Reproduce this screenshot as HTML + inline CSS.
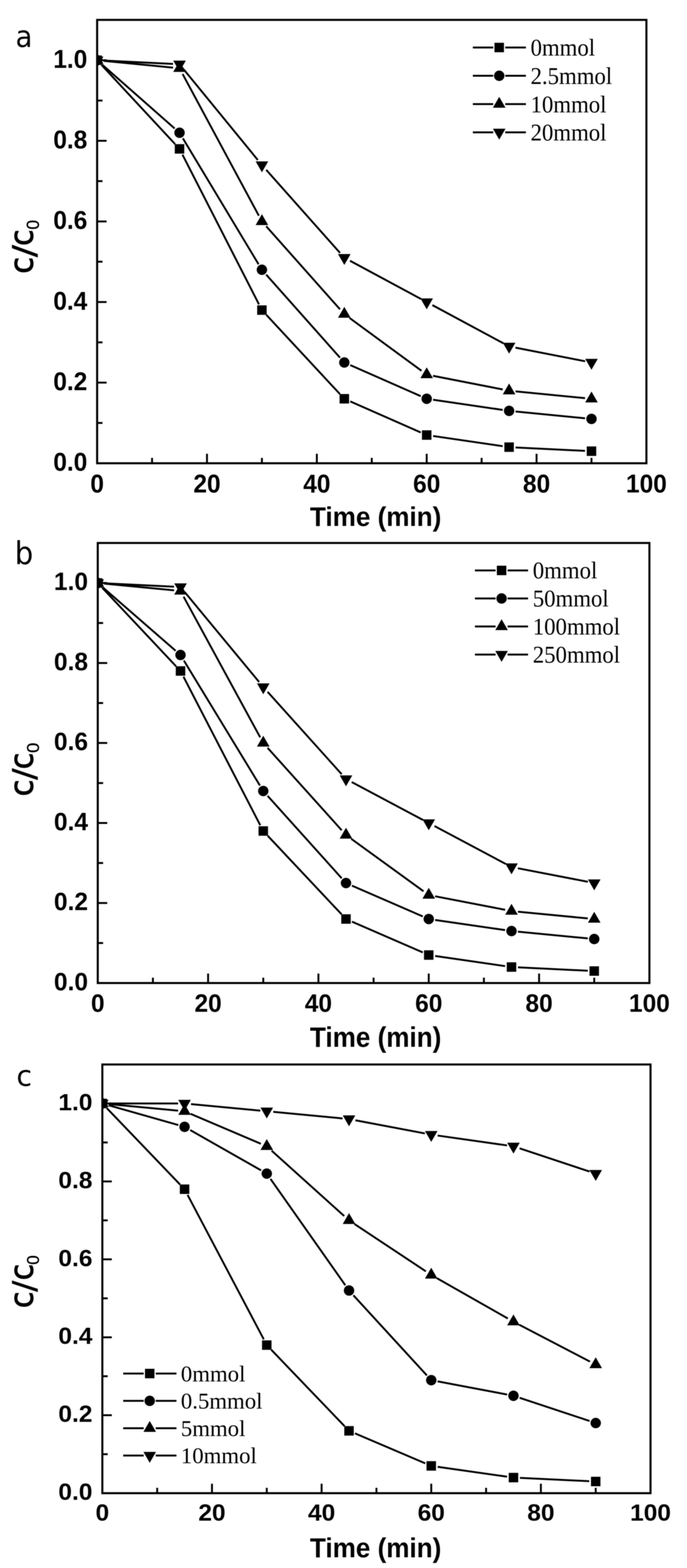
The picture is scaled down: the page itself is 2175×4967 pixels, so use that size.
<!DOCTYPE html>
<html><head><meta charset="utf-8"><title>C/C0 vs Time</title>
<style>html,body{margin:0;padding:0;background:#fff;}svg{display:block;}</style>
</head><body>
<svg width="2175" height="4967" viewBox="0 0 2175 4967">
<defs><filter id="soft0" filterUnits="userSpaceOnUse" x="0" y="0" width="2175" height="1700"><feGaussianBlur stdDeviation="1.0"/></filter><filter id="soft1" filterUnits="userSpaceOnUse" x="0" y="1690" width="2175" height="1670"><feGaussianBlur stdDeviation="1.0"/></filter><filter id="soft2" filterUnits="userSpaceOnUse" x="0" y="3350" width="2175" height="1617"><feGaussianBlur stdDeviation="1.0"/></filter></defs>
<rect width="2175" height="4967" fill="#fff"/>
<g>
<g filter="url(#soft0)">
<rect x="307.5" y="63" width="1739" height="1404.5" fill="none" stroke="#000" stroke-width="6.5"/>
<path d="M481.4 1467.5v-17M655.3 1467.5v-30M829.2 1467.5v-17M1003.1 1467.5v-30M1177 1467.5v-17M1350.9 1467.5v-30M1524.8 1467.5v-17M1698.7 1467.5v-30M1872.6 1467.5v-17M307.5 1339.8h17M307.5 1212.1h30M307.5 1084.5h17M307.5 956.8h30M307.5 829.1h17M307.5 701.4h30M307.5 573.7h17M307.5 446h30M307.5 318.4h17M307.5 190.7h30" stroke="#000" stroke-width="6" fill="none"/>
<g font-family="'Liberation Sans', Arial, sans-serif" font-weight="bold" font-size="80" fill="#000">
<text transform="translate(307.5,1559.9) scale(0.97,1.03)" text-anchor="middle">0</text>
<text transform="translate(655.3,1559.9) scale(0.97,1.03)" text-anchor="middle">20</text>
<text transform="translate(1003.1,1559.9) scale(0.97,1.03)" text-anchor="middle">40</text>
<text transform="translate(1350.9,1559.9) scale(0.97,1.03)" text-anchor="middle">60</text>
<text transform="translate(1698.7,1559.9) scale(0.97,1.03)" text-anchor="middle">80</text>
<text transform="translate(2046.5,1559.9) scale(0.97,1.03)" text-anchor="middle">100</text>
<text transform="translate(276.5,1491.4) scale(0.97,1.03)" text-anchor="end">0.0</text>
<text transform="translate(276.5,1236) scale(0.97,1.03)" text-anchor="end">0.2</text>
<text transform="translate(276.5,980.7) scale(0.97,1.03)" text-anchor="end">0.4</text>
<text transform="translate(276.5,725.3) scale(0.97,1.03)" text-anchor="end">0.6</text>
<text transform="translate(276.5,469.9) scale(0.97,1.03)" text-anchor="end">0.8</text>
<text transform="translate(276.5,214.6) scale(0.97,1.03)" text-anchor="end">1.0</text>
</g>
<text transform="translate(981.37,1665.91) scale(1.0319,1.0760)" font-family="'Liberation Sans', Arial, sans-serif" font-weight="bold" font-size="80">Time (min)</text>
<text transform="translate(103.99,866.99) rotate(-90) scale(0.9651,1.0140)" font-family="'DejaVu Sans', 'Liberation Sans', sans-serif" font-weight="normal" font-size="100" stroke="#000" stroke-width="2.43">c</text>
<text transform="translate(110.01,814.70) rotate(-90) scale(1.1471,0.9768)" font-family="'DejaVu Sans', 'Liberation Sans', sans-serif" font-weight="normal" font-size="100" stroke="#000" stroke-width="1.32">/</text>
<text transform="translate(103.99,778.67) rotate(-90) scale(0.9442,1.0140)" font-family="'DejaVu Sans', 'Liberation Sans', sans-serif" font-weight="normal" font-size="100" stroke="#000" stroke-width="2.45">c</text>
<text transform="translate(123.05,727.29) rotate(-90) scale(0.5479,0.5521)" font-family="'Liberation Sans', Arial, sans-serif" font-weight="normal" font-size="100" stroke="#000" stroke-width="1.45">0</text>
<text transform="translate(49.27,148.95) scale(0.8717,0.9456)" font-family="'DejaVu Sans', 'Liberation Sans', sans-serif" font-weight="normal" font-size="100">a</text>
<clipPath id="clipa"><rect x="307.5" y="63" width="1739" height="1404.5"/></clipPath>
<g clip-path="url(#clipa)">
<path d="M321.4 205.7L554.4 456.6M577.7 489.8L819.9 964.1M843.1 997.3L1076.1 1248.2M1108.8 1271.5L1332.1 1369.9M1371.2 1381.1L1591.5 1413.4M1632.2 1417.4L1852.1 1428.2" stroke="#000" stroke-width="6" fill="none"/>
<g fill="#000"><rect x="292.5" y="175.7" width="30" height="30"/><rect x="553.4" y="456.6" width="30" height="30"/><rect x="814.2" y="967.3" width="30" height="30"/><rect x="1075.1" y="1248.2" width="30" height="30"/><rect x="1335.9" y="1363.1" width="30" height="30"/><rect x="1596.8" y="1401.4" width="30" height="30"/><rect x="1857.6" y="1414.2" width="30" height="30"/></g>
<path d="M322.9 204.2L553 407M578.9 438.1L818.6 837.1M842.8 870L1076.4 1133M1108.8 1156.6L1332.1 1254.9M1371.2 1266.2L1591.5 1298.5M1632.2 1303.5L1852.2 1325.1" stroke="#000" stroke-width="6" fill="none"/>
<g fill="#000"><circle cx="307.5" cy="190.7" r="16.5"/><circle cx="568.4" cy="420.5" r="16.5"/><circle cx="829.2" cy="854.6" r="16.5"/><circle cx="1090.1" cy="1148.3" r="16.5"/><circle cx="1350.9" cy="1263.2" r="16.5"/><circle cx="1611.8" cy="1301.5" r="16.5"/><circle cx="1872.6" cy="1327" r="16.5"/></g>
<path d="M327.9 192.7L547.9 214.2M578.1 234.3L819.5 683.4M842.8 716.7L1076.4 979.8M1106.6 1007.2L1334.4 1174.5M1371 1190.5L1591.6 1233.7M1632.2 1239.7L1852.2 1261.2" stroke="#000" stroke-width="6" fill="none"/>
<g fill="#000"><polygon points="307.5,167.7 327.4,202.2 287.6,202.2"/><polygon points="568.4,193.2 588.3,227.7 548.4,227.7"/><polygon points="829.2,678.4 849.1,712.9 809.3,712.9"/><polygon points="1090.1,972.1 1110,1006.6 1070.1,1006.6"/><polygon points="1350.9,1163.6 1370.8,1198.1 1331,1198.1"/><polygon points="1611.8,1214.7 1631.7,1249.2 1591.8,1249.2"/><polygon points="1872.6,1240.2 1892.5,1274.7 1852.7,1274.7"/></g>
<path d="M328 191.7L547.9 202.4M581.3 219.3L816.2 506.8M842.8 538L1076.4 801M1108.1 826L1332.9 947.1M1368.9 966.5L1593.7 1087.5M1631.9 1101.2L1852.5 1144.4" stroke="#000" stroke-width="6" fill="none"/>
<g fill="#000"><polygon points="287.6,179.2 327.4,179.2 307.5,213.7"/><polygon points="548.4,192 588.3,192 568.4,226.5"/><polygon points="809.3,511.2 849.1,511.2 829.2,545.7"/><polygon points="1070.1,804.8 1110,804.8 1090.1,839.3"/><polygon points="1331,945.3 1370.8,945.3 1350.9,979.8"/><polygon points="1591.8,1085.7 1631.7,1085.7 1611.8,1120.2"/><polygon points="1852.7,1136.8 1892.5,1136.8 1872.6,1171.3"/></g>
</g>
<path d="M1497 150.5H1561.5M1599.5 150.5H1665" stroke="#000" stroke-width="6"/>
<g fill="#000"><rect x="1565.5" y="135.5" width="30" height="30"/></g>
<text transform="translate(1679.7,176.4) scale(1.0304,1.096)" font-family="'Liberation Serif', 'Times New Roman', serif" font-size="70">0mmol</text>
<path d="M1497 240.1H1561.5M1599.5 240.1H1665" stroke="#000" stroke-width="6"/>
<g fill="#000"><circle cx="1580.5" cy="240.1" r="16.5"/></g>
<text transform="translate(1679.7,266) scale(1.0304,1.096)" font-family="'Liberation Serif', 'Times New Roman', serif" font-size="70">2.5mmol</text>
<path d="M1497 329.7H1561.5M1599.5 329.7H1665" stroke="#000" stroke-width="6"/>
<g fill="#000"><polygon points="1580.5,306.7 1600.4,341.2 1560.6,341.2"/></g>
<text transform="translate(1679.7,355.6) scale(1.0304,1.096)" font-family="'Liberation Serif', 'Times New Roman', serif" font-size="70">10mmol</text>
<path d="M1497 419.3H1561.5M1599.5 419.3H1665" stroke="#000" stroke-width="6"/>
<g fill="#000"><polygon points="1560.6,407.8 1600.4,407.8 1580.5,442.3"/></g>
<text transform="translate(1679.7,445.2) scale(1.0304,1.096)" font-family="'Liberation Serif', 'Times New Roman', serif" font-size="70">20mmol</text>
</g>
<g filter="url(#soft1)">
<rect x="309.5" y="1720" width="1746.5" height="1394" fill="none" stroke="#000" stroke-width="6.5"/>
<path d="M484.1 3114v-17M658.8 3114v-30M833.5 3114v-17M1008.1 3114v-30M1182.8 3114v-17M1357.4 3114v-30M1532 3114v-17M1706.7 3114v-30M1881.3 3114v-17M309.5 2987.3h17M309.5 2860.5h30M309.5 2733.8h17M309.5 2607.1h30M309.5 2480.4h17M309.5 2353.6h30M309.5 2226.9h17M309.5 2100.2h30M309.5 1973.5h17M309.5 1846.7h30" stroke="#000" stroke-width="6" fill="none"/>
<g font-family="'Liberation Sans', Arial, sans-serif" font-weight="bold" font-size="80" fill="#000">
<text transform="translate(309.5,3204.6) scale(0.97,0.99)" text-anchor="middle">0</text>
<text transform="translate(658.8,3204.6) scale(0.97,0.99)" text-anchor="middle">20</text>
<text transform="translate(1008.1,3204.6) scale(0.97,0.99)" text-anchor="middle">40</text>
<text transform="translate(1357.4,3204.6) scale(0.97,0.99)" text-anchor="middle">60</text>
<text transform="translate(1706.7,3204.6) scale(0.97,0.99)" text-anchor="middle">80</text>
<text transform="translate(2056,3204.6) scale(0.97,0.99)" text-anchor="middle">100</text>
<text transform="translate(278.7,3136.8) scale(0.97,0.99)" text-anchor="end">0.0</text>
<text transform="translate(278.7,2883.3) scale(0.97,0.99)" text-anchor="end">0.2</text>
<text transform="translate(278.7,2629.9) scale(0.97,0.99)" text-anchor="end">0.4</text>
<text transform="translate(278.7,2376.4) scale(0.97,0.99)" text-anchor="end">0.6</text>
<text transform="translate(278.7,2123) scale(0.97,0.99)" text-anchor="end">0.8</text>
<text transform="translate(278.7,1869.5) scale(0.97,0.99)" text-anchor="end">1.0</text>
</g>
<text transform="translate(981.37,3315.51) scale(1.0319,1.1053)" font-family="'Liberation Sans', Arial, sans-serif" font-weight="bold" font-size="80">Time (min)</text>
<text transform="translate(103.99,2522.49) rotate(-90) scale(0.9651,1.0140)" font-family="'DejaVu Sans', 'Liberation Sans', sans-serif" font-weight="normal" font-size="100" stroke="#000" stroke-width="2.43">c</text>
<text transform="translate(110.01,2470.20) rotate(-90) scale(1.0676,0.9768)" font-family="'DejaVu Sans', 'Liberation Sans', sans-serif" font-weight="normal" font-size="100" stroke="#000" stroke-width="1.37">/</text>
<text transform="translate(103.99,2436.82) rotate(-90) scale(0.9535,1.0140)" font-family="'DejaVu Sans', 'Liberation Sans', sans-serif" font-weight="normal" font-size="100" stroke="#000" stroke-width="2.44">c</text>
<text transform="translate(123.05,2385.03) rotate(-90) scale(0.5833,0.5451)" font-family="'Liberation Sans', Arial, sans-serif" font-weight="normal" font-size="100" stroke="#000" stroke-width="1.42">0</text>
<text transform="translate(46.56,1787.30) scale(0.9265,1.0000)" font-family="'DejaVu Sans', 'Liberation Sans', sans-serif" font-weight="normal" font-size="100">b</text>
<clipPath id="clipb"><rect x="309.5" y="1720" width="1746.5" height="1394"/></clipPath>
<g clip-path="url(#clipb)">
<path d="M323.5 1861.7L557.4 2110.6M580.9 2143.7L824 2614.2M847.5 2647.4L1081.4 2896.3M1114.2 2919.4L1338.6 3017.1M1377.7 3028.2L1599.1 3060.4M1639.9 3064.3L1860.9 3075" stroke="#000" stroke-width="6" fill="none"/>
<g fill="#000"><rect x="294.5" y="1831.7" width="30" height="30"/><rect x="556.5" y="2110.5" width="30" height="30"/><rect x="818.5" y="2617.4" width="30" height="30"/><rect x="1080.4" y="2896.2" width="30" height="30"/><rect x="1342.4" y="3010.3" width="30" height="30"/><rect x="1604.4" y="3048.3" width="30" height="30"/><rect x="1866.3" y="3061" width="30" height="30"/></g>
<path d="M325 1860.2L556 2061.4M582.1 2092.4L822.8 2488.2M847.2 2521L1081.7 2781.9M1114.2 2805.4L1338.6 2903.1M1377.7 2914.2L1599.1 2946.3M1639.8 2951.2L1860.9 2972.6" stroke="#000" stroke-width="6" fill="none"/>
<g fill="#000"><circle cx="309.5" cy="1846.7" r="16.5"/><circle cx="571.5" cy="2074.8" r="16.5"/><circle cx="833.5" cy="2505.7" r="16.5"/><circle cx="1095.4" cy="2797.2" r="16.5"/><circle cx="1357.4" cy="2911.2" r="16.5"/><circle cx="1619.4" cy="2949.3" r="16.5"/><circle cx="1881.3" cy="2974.6" r="16.5"/></g>
<path d="M329.9 1848.7L551.1 1870.1M581.3 1890.1L823.7 2335.6M847.2 2368.9L1081.7 2629.9M1112 2657.1L1340.8 2823.2M1377.5 2839.1L1599.2 2882M1639.8 2887.9L1860.9 2909.3" stroke="#000" stroke-width="6" fill="none"/>
<g fill="#000"><polygon points="309.5,1823.7 329.4,1858.2 289.6,1858.2"/><polygon points="571.5,1849.1 591.4,1883.6 551.6,1883.6"/><polygon points="833.5,2330.6 853.4,2365.1 813.5,2365.1"/><polygon points="1095.4,2622.1 1115.3,2656.6 1075.5,2656.6"/><polygon points="1357.4,2812.2 1377.3,2846.7 1337.5,2846.7"/><polygon points="1619.4,2862.9 1639.3,2897.4 1599.5,2897.4"/><polygon points="1881.3,2888.2 1901.3,2922.7 1861.4,2922.7"/></g>
<path d="M330 1847.7L551 1858.4M584.5 1875.2L820.4 2160.4M847.2 2191.5L1081.7 2452.4M1113.5 2477.3L1339.3 2597.5M1375.5 2616.7L1601.3 2736.9M1639.5 2750.4L1861.2 2793.3" stroke="#000" stroke-width="6" fill="none"/>
<g fill="#000"><polygon points="289.6,1835.2 329.4,1835.2 309.5,1869.7"/><polygon points="551.6,1847.9 591.4,1847.9 571.5,1882.4"/><polygon points="813.5,2164.7 853.4,2164.7 833.5,2199.2"/><polygon points="1075.5,2456.2 1115.3,2456.2 1095.4,2490.7"/><polygon points="1337.5,2595.6 1377.3,2595.6 1357.4,2630.1"/><polygon points="1599.5,2735 1639.3,2735 1619.4,2769.5"/><polygon points="1861.4,2785.7 1901.3,2785.7 1881.3,2820.2"/></g>
</g>
<path d="M1503.6 1807H1569M1607 1807H1671.8" stroke="#000" stroke-width="6"/>
<g fill="#000"><rect x="1573" y="1792" width="30" height="30"/></g>
<text transform="translate(1686.7,1832.4) scale(1.0304,1.077)" font-family="'Liberation Serif', 'Times New Roman', serif" font-size="70">0mmol</text>
<path d="M1503.6 1895.8H1569M1607 1895.8H1671.8" stroke="#000" stroke-width="6"/>
<g fill="#000"><circle cx="1588" cy="1895.8" r="16.5"/></g>
<text transform="translate(1686.7,1921.2) scale(1.0304,1.077)" font-family="'Liberation Serif', 'Times New Roman', serif" font-size="70">50mmol</text>
<path d="M1503.6 1984.6H1569M1607 1984.6H1671.8" stroke="#000" stroke-width="6"/>
<g fill="#000"><polygon points="1588,1961.6 1607.9,1996.1 1568.1,1996.1"/></g>
<text transform="translate(1686.7,2010) scale(1.0304,1.077)" font-family="'Liberation Serif', 'Times New Roman', serif" font-size="70">100mmol</text>
<path d="M1503.6 2073.4H1569M1607 2073.4H1671.8" stroke="#000" stroke-width="6"/>
<g fill="#000"><polygon points="1568.1,2061.9 1607.9,2061.9 1588,2096.4"/></g>
<text transform="translate(1686.7,2098.8) scale(1.0304,1.077)" font-family="'Liberation Serif', 'Times New Roman', serif" font-size="70">250mmol</text>
</g>
<g filter="url(#soft2)">
<rect x="324" y="3372" width="1735.5" height="1358" fill="none" stroke="#000" stroke-width="6.5"/>
<path d="M497.6 4730v-17M671.1 4730v-30M844.6 4730v-17M1018.2 4730v-30M1191.8 4730v-17M1365.3 4730v-30M1538.9 4730v-17M1712.4 4730v-30M1886 4730v-17M324 4606.5h17M324 4483.1h30M324 4359.6h17M324 4236.2h30M324 4112.7h17M324 3989.3h30M324 3865.8h17M324 3742.4h30M324 3618.9h17M324 3495.5h30" stroke="#000" stroke-width="6" fill="none"/>
<g font-family="'Liberation Sans', Arial, sans-serif" font-weight="bold" font-size="80" fill="#000">
<text transform="translate(324,4816.7) scale(0.97,0.934)" text-anchor="middle">0</text>
<text transform="translate(671.1,4816.7) scale(0.97,0.934)" text-anchor="middle">20</text>
<text transform="translate(1018.2,4816.7) scale(0.97,0.934)" text-anchor="middle">40</text>
<text transform="translate(1365.3,4816.7) scale(0.97,0.934)" text-anchor="middle">60</text>
<text transform="translate(1712.4,4816.7) scale(0.97,0.934)" text-anchor="middle">80</text>
<text transform="translate(2059.5,4816.7) scale(0.97,0.934)" text-anchor="middle">100</text>
<text transform="translate(292.7,4751.2) scale(0.97,0.934)" text-anchor="end">0.0</text>
<text transform="translate(292.7,4504.3) scale(0.97,0.934)" text-anchor="end">0.2</text>
<text transform="translate(292.7,4257.4) scale(0.97,0.934)" text-anchor="end">0.4</text>
<text transform="translate(292.7,4010.5) scale(0.97,0.934)" text-anchor="end">0.6</text>
<text transform="translate(292.7,3763.6) scale(0.97,0.934)" text-anchor="end">0.8</text>
<text transform="translate(292.7,3516.7) scale(0.97,0.934)" text-anchor="end">1.0</text>
</g>
<text transform="translate(981.37,4932.89) scale(1.0319,1.0827)" font-family="'Liberation Sans', Arial, sans-serif" font-weight="bold" font-size="80">Time (min)</text>
<text transform="translate(103.99,4143.72) rotate(-90) scale(0.9535,1.0140)" font-family="'DejaVu Sans', 'Liberation Sans', sans-serif" font-weight="normal" font-size="100" stroke="#000" stroke-width="2.44">c</text>
<text transform="translate(110.01,4092.00) rotate(-90) scale(1.0412,0.9768)" font-family="'DejaVu Sans', 'Liberation Sans', sans-serif" font-weight="normal" font-size="100" stroke="#000" stroke-width="1.39">/</text>
<text transform="translate(103.99,4055.47) rotate(-90) scale(0.9442,1.0140)" font-family="'DejaVu Sans', 'Liberation Sans', sans-serif" font-weight="normal" font-size="100" stroke="#000" stroke-width="2.45">c</text>
<text transform="translate(123.05,4006.25) rotate(-90) scale(0.5375,0.5451)" font-family="'Liberation Sans', Arial, sans-serif" font-weight="normal" font-size="100" stroke="#000" stroke-width="1.48">0</text>
<text transform="translate(52.01,3439.69) scale(0.8977,0.9140)" font-family="'DejaVu Sans', 'Liberation Sans', sans-serif" font-weight="normal" font-size="100">c</text>
<clipPath id="clipc"><rect x="324" y="3372" width="1735.5" height="1358"/></clipPath>
<g clip-path="url(#clipc)">
<path d="M338.2 3510.3L570.1 3752.3M593.9 3785.2L835.1 4242.7M858.8 4275.7L1090.8 4517.7M1123.8 4540.5L1346.4 4635.5M1385.6 4646.5L1605.3 4677.7M1646.1 4681.6L1865.5 4692" stroke="#000" stroke-width="6" fill="none"/>
<g fill="#000"><rect x="309" y="3480.5" width="30" height="30"/><rect x="569.3" y="3752.1" width="30" height="30"/><rect x="829.6" y="4245.9" width="30" height="30"/><rect x="1090" y="4517.5" width="30" height="30"/><rect x="1350.3" y="4628.6" width="30" height="30"/><rect x="1610.6" y="4665.6" width="30" height="30"/><rect x="1871" y="4678" width="30" height="30"/></g>
<path d="M343.7 3501.1L564.6 3563.9M602.1 3579.7L826.8 3707.5M856.4 3734.4L1093.2 4071.3M1118.8 4103.1L1351.4 4356.9M1385.4 4375.8L1605.5 4417.5M1645.1 4427.8L1866.5 4501.3" stroke="#000" stroke-width="6" fill="none"/>
<g fill="#000"><circle cx="324" cy="3495.5" r="16.5"/><circle cx="584.3" cy="3569.5" r="16.5"/><circle cx="844.6" cy="3717.7" r="16.5"/><circle cx="1105" cy="4088" r="16.5"/><circle cx="1365.3" cy="4372" r="16.5"/><circle cx="1625.6" cy="4421.4" r="16.5"/><circle cx="1886" cy="4507.8" r="16.5"/></g>
<path d="M344.4 3497.4L563.9 3518.2M603.2 3528.2L825.8 3623.2M859.9 3645L1089.7 3852.1M1122.1 3877.2L1348.2 4027.3M1383.1 4048.8L1607.8 4176.7M1643.8 4196.3L1867.8 4313.1" stroke="#000" stroke-width="6" fill="none"/>
<g fill="#000"><polygon points="324,3472.5 343.9,3507 304.1,3507"/><polygon points="584.3,3497.1 604.2,3531.6 564.4,3531.6"/><polygon points="844.6,3608.3 864.6,3642.8 824.7,3642.8"/><polygon points="1105,3842.8 1124.9,3877.3 1085.1,3877.3"/><polygon points="1365.3,4015.7 1385.2,4050.2 1345.4,4050.2"/><polygon points="1625.6,4163.8 1645.5,4198.3 1605.7,4198.3"/><polygon points="1886,4299.6 1905.9,4334.1 1866,4334.1"/></g>
<path d="M344.5 3495.5L563.8 3495.5M604.7 3497.4L824.2 3518.2M865.1 3522.1L1084.6 3542.9M1125.1 3548.7L1345.2 3590.4M1385.6 3597.1L1605.3 3628.4M1645.1 3637.7L1866.5 3711.2" stroke="#000" stroke-width="6" fill="none"/>
<g fill="#000"><polygon points="304.1,3484 343.9,3484 324,3518.5"/><polygon points="564.4,3484 604.2,3484 584.3,3518.5"/><polygon points="824.7,3508.6 864.6,3508.6 844.6,3543.1"/><polygon points="1085.1,3533.3 1124.9,3533.3 1105,3567.8"/><polygon points="1345.4,3582.7 1385.2,3582.7 1365.3,3617.2"/><polygon points="1605.7,3619.8 1645.5,3619.8 1625.6,3654.3"/><polygon points="1866,3706.2 1905.9,3706.2 1886,3740.7"/></g>
</g>
<path d="M390 4351H455M493 4351H558.7" stroke="#000" stroke-width="6"/>
<g fill="#000"><rect x="459" y="4336" width="30" height="30"/></g>
<text transform="translate(572.6,4375.5) scale(1.0304,1.0375)" font-family="'Liberation Serif', 'Times New Roman', serif" font-size="70">0mmol</text>
<path d="M390 4437.6H455M493 4437.6H558.7" stroke="#000" stroke-width="6"/>
<g fill="#000"><circle cx="474" cy="4437.6" r="16.5"/></g>
<text transform="translate(572.6,4462.1) scale(1.0304,1.0375)" font-family="'Liberation Serif', 'Times New Roman', serif" font-size="70">0.5mmol</text>
<path d="M390 4524.2H455M493 4524.2H558.7" stroke="#000" stroke-width="6"/>
<g fill="#000"><polygon points="474,4501.2 493.9,4535.7 454.1,4535.7"/></g>
<text transform="translate(572.6,4548.7) scale(1.0304,1.0375)" font-family="'Liberation Serif', 'Times New Roman', serif" font-size="70">5mmol</text>
<path d="M390 4610.8H455M493 4610.8H558.7" stroke="#000" stroke-width="6"/>
<g fill="#000"><polygon points="454.1,4599.3 493.9,4599.3 474,4633.8"/></g>
<text transform="translate(572.6,4635.3) scale(1.0304,1.0375)" font-family="'Liberation Serif', 'Times New Roman', serif" font-size="70">10mmol</text>
</g>
</g>
</svg>
</body></html>
